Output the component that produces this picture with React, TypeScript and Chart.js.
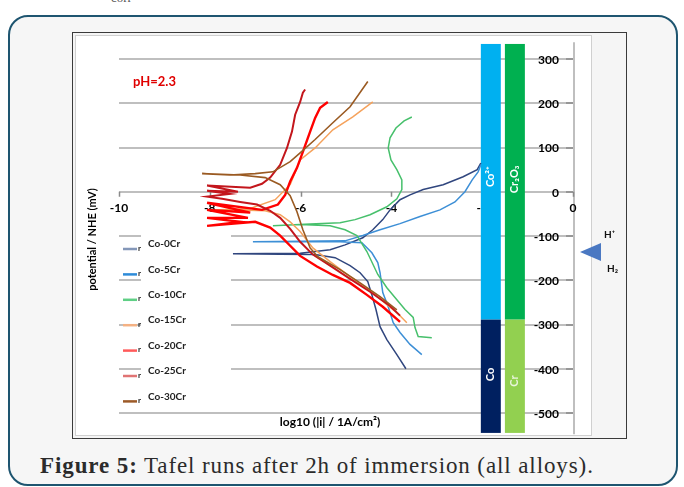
import React, { useEffect, useRef } from "react";
import { Chart, registerables } from "chart.js";

Chart.register(...registerables);

// ---------- data (log10 |i| in A/cm², potential in mV vs NHE) ----------
const co0CrLogI = [-3.68, -3.88, -4.1, -4.25, -4.34, -4.43, -4.52, -4.69, -4.91, -5.24, -5.68, -6.45, -7.49, -6.01, -5.35, -5.02, -4.63, -4.41, -4.19, -4.03, -3.81, -3.59, -3.3, -2.86, -2.42, -2.11, -2.03];
const co0CrE = [-400, -368, -334, -305, -266, -233, -203, -183, -167, -149, -142, -141, -140, -139, -131, -120, -104, -86, -63, -41, -18, -7, 5, 16, 34, 50, 65];

const co5CrLogI = [-3.33, -3.59, -3.81, -3.96, -4.07, -4.19, -4.25, -4.3, -4.43, -4.65, -5.13, -6.01, -7.05, -6.01, -5.02, -4.63, -4.25, -3.81, -3.37, -2.93, -2.6, -2.38, -2.22, -2.09, -2.03];
const co5CrE = [-368, -345, -318, -296, -260, -228, -183, -160, -138, -115, -113, -113, -113, -112, -111, -99, -86, -72, -56, -41, -23, 0, 27, 45, 61];

const co10CrLogI = [-3.11, -3.41, -3.48, -3.52, -3.7, -3.88, -4.1, -4.3, -4.54, -4.76, -5.02, -5.35, -6.01, -6.61, -5.79, -5.13, -4.8, -4.47, -4.1, -3.88, -3.77, -3.77, -3.88, -4.01, -4.07, -4.03, -3.9, -3.72, -3.55];
const co10CrE = [-330, -327, -307, -284, -266, -244, -217, -187, -135, -99, -86, -77, -74, -77, -73, -70, -63, -52, -34, -16, 5, 27, 50, 72, 99, 122, 144, 160, 169];

const co15CrLogI = [-3.66, -3.88, -4.1, -4.41, -4.91, -5.35, -5.73, -6.01, -6.23, -6.45, -6.78, -7.33, -7.89, -7.11, -6.56, -6.23, -6.01, -5.68, -5.29, -4.85, -4.41];
const co15CrE = [-296, -273, -255, -228, -192, -158, -127, -90, -68, -52, -43, -41, -41, -38, -18, 16, 72, 99, 140, 169, 203];

const co20CrLogI = [-3.81, -4.19, -4.54, -4.91, -5.29, -5.64, -6.01, -6.23, -6.45, -6.67, -7.0, -8.06, -7.33, -8.06, -7.16, -8.06, -7.11, -8.06, -6.85, -6.5, -6.34, -6.23, -6.08, -5.95, -5.79, -5.68, -5.57, -5.4];
const co20CrE = [-294, -260, -233, -206, -188, -169, -145, -122, -99, -81, -68, -77, -68, -59, -59, -41, -47, -25, -41, -29, -7, 23, 54, 90, 136, 167, 190, 203];

const co25CrLogI = [-3.81, -4.03, -4.47, -4.91, -5.35, -5.73, -6.01, -6.23, -6.45, -6.67, -6.96, -7.33, -7.73, -8.06, -7.56, -8.06, -7.38, -8.06, -7.11, -6.85, -6.67, -6.45, -6.3, -6.19, -6.12, -6.01, -5.95, -5.9];
const co25CrE = [-280, -258, -226, -197, -167, -142, -113, -84, -59, -43, -29, -23, -16, -11, -5, 2, 0, 14, 9, 18, 32, 61, 99, 136, 174, 203, 224, 231];

const co30CrLogI = [-3.88, -4.25, -4.69, -5.13, -5.62, -5.79, -5.95, -6.08, -6.23, -6.45, -6.78, -7.33, -8.17, -7.56, -7.0, -6.61, -6.23, -6.01, -5.68, -5.29, -4.91, -4.52];
const co30CrE = [-267, -237, -206, -176, -147, -127, -86, -45, -9, 16, 32, 38, 41, 38, 41, 45, 68, 88, 118, 156, 192, 249];

const seriesNames = ["Co-0Cr", "Co-5Cr", "Co-10Cr", "Co-15Cr", "Co-20Cr", "Co-25Cr", "Co-30Cr"];
const seriesLogI = [co0CrLogI, co5CrLogI, co10CrLogI, co15CrLogI, co20CrLogI, co25CrLogI, co30CrLogI];
const seriesE = [co0CrE, co5CrE, co10CrE, co15CrE, co20CrE, co25CrE, co30CrE];
const seriesColors = ["#30467e", "#3d8fd6", "#47c06c", "#f5a25c", "#ff0000", "#c3161c", "#9a5a22"];
const legendColors = ["#8497b8", "#2e8bd8", "#5fcf85", "#f4b183", "#ff5a5a", "#e07474", "#9c5a28"];
const seriesWidths = [1.5, 1.5, 1.5, 1.5, 2.4, 2, 1.6];

const xTickValues = [-10, -8, -6, -4, -2, 0];
const yTickValues = [300, 200, 100, 0, -100, -200, -300, -400, -500];

// stability bands (Pourbaix-like): [left, right] log i, and potentials
const bandLeft = [-2.03, -1.5];
const bandRight = [-1.59, -1.06];
const bandTop = 334;
const bandSplit = -289;
const bandBottom = -545;
const bandUpperColors = ["#00b0f0", "#00b050"];
const bandLowerColors = ["#002060", "#92d050"];
const bandUpperLabels = ["Co²⁺", "Cr₂O₃"];
const bandLowerLabels = ["Co", "Cr"];
const bandUpperLabelE = [34, 28];
const bandLowerLabelE = [-413, -428];
const bandLowerLabelColors = ["#ffffff", "#e9f5dc"];

const hydrogenE = -136; // H+/H2 at pH 2.3
const phLabel = "pH=2.3";
const phLabelPos = { x: -9.69, y: 249 };

const FONT = "Lato, 'DejaVu Sans', sans-serif";

const decorPlugin = {
  id: "decor",
  beforeDatasetsDraw(chart: any) {
    const { ctx } = chart;
    const xs = chart.scales.x;
    const ys = chart.scales.y;
    const X = (v: number) => xs.getPixelForValue(v);
    const Y = (v: number) => ys.getPixelForValue(v);
    const line = (x1: number, y1: number, x2: number, y2: number) => {
      ctx.beginPath();
      ctx.moveTo(x1, y1);
      ctx.lineTo(x2, y2);
      ctx.stroke();
    };
    ctx.save();
    // gridlines
    ctx.strokeStyle = "#bfbfbf";
    ctx.lineWidth = 2;
    yTickValues.forEach((v) => {
      const py = Math.round(Y(v));
      line(X(-10), py, X(0), py);
    });
    // vertical axis at x = 0
    line(Math.round(X(0)) + 1, Y(338), Math.round(X(0)) + 1, Y(-548));
    // y tick marks
    ctx.strokeStyle = "#8a8a8a";
    ctx.lineWidth = 1.5;
    yTickValues.forEach((v) => {
      const py = Math.round(Y(v));
      line(X(0) - 7, py, X(0), py);
    });
    // x tick marks
    xTickValues.forEach((v) => {
      const px = Math.round(X(v)) + 0.5;
      line(px, Y(0), px, Y(0) + 5);
    });

    // legend background
    const la = chart.chartArea.left;
    const lt = Y(-100) - 6;
    ctx.fillStyle = "#ffffff";
    ctx.fillRect(la + 22, lt + 4, 90, 172);

    // tick labels
    ctx.fillStyle = "#000";
    ctx.font = "bold 12px " + FONT;
    ctx.textAlign = "center";
    ctx.textBaseline = "middle";
    xTickValues.forEach((v) => {
      ctx.fillText(String(v), X(v), Y(0) + 16);
    });
    ctx.textAlign = "right";
    yTickValues.forEach((v) => {
      ctx.fillText(String(v), X(0) - 14, Y(v) + 1);
    });

    // bands
    for (let i = 0; i < 2; i++) {
      const x1 = X(bandLeft[i]);
      const x2 = X(bandRight[i]);
      ctx.fillStyle = bandUpperColors[i];
      ctx.fillRect(x1, Y(bandTop), x2 - x1, Y(bandSplit) - Y(bandTop));
      ctx.fillStyle = bandLowerColors[i];
      ctx.fillRect(x1, Y(bandSplit), x2 - x1, Y(bandBottom) - Y(bandSplit));
      const cx = (x1 + x2) / 2;
      ctx.font = "bold 11px " + FONT;
      ctx.textAlign = "center";
      ctx.textBaseline = "middle";
      ctx.save();
      ctx.translate(cx, Y(bandUpperLabelE[i]));
      ctx.rotate(-Math.PI / 2);
      ctx.fillStyle = "#ffffff";
      ctx.fillText(bandUpperLabels[i], 0, 0);
      ctx.restore();
      ctx.save();
      ctx.translate(cx, Y(bandLowerLabelE[i]));
      ctx.rotate(-Math.PI / 2);
      ctx.fillStyle = bandLowerLabelColors[i];
      ctx.fillText(bandLowerLabels[i], 0, 0);
      ctx.restore();
    }

    // legend entries
    const rowY0 = Y(-100) + 13;
    const step = 25.4;
    ctx.textAlign = "left";
    ctx.textBaseline = "middle";
    seriesNames.forEach((name, i) => {
      const ry = rowY0 + i * step;
      ctx.strokeStyle = legendColors[i];
      ctx.lineWidth = 2.5;
      line(la + 4, ry, la + 18, ry);
      ctx.fillStyle = "#222";
      ctx.font = "bold 8px " + FONT;
      ctx.fillText("r", la + 19, ry - 1);
      ctx.font = "bold 10px " + FONT;
      ctx.fillText(name, la + 29, ry - 5);
    });
    ctx.restore();
  },
  afterDatasetsDraw(chart: any) {
    const { ctx } = chart;
    const xs = chart.scales.x;
    const ys = chart.scales.y;
    const X = (v: number) => xs.getPixelForValue(v);
    const Y = (v: number) => ys.getPixelForValue(v);
    ctx.save();
    // pH label
    ctx.fillStyle = "#e00000";
    ctx.font = "bold 13px " + FONT;
    ctx.textAlign = "left";
    ctx.textBaseline = "middle";
    ctx.fillText(phLabel, X(phLabelPos.x), Y(phLabelPos.y));
    // axis titles
    ctx.fillStyle = "#000";
    ctx.font = "bold 12px " + FONT;
    ctx.textAlign = "center";
    ctx.fillText("log10 (|i| / 1A/cm²)", X(-5.35), Y(-520));
    ctx.save();
    ctx.translate(20, Y(-108));
    ctx.rotate(-Math.PI / 2);
    ctx.font = "bold 11px " + FONT;
    ctx.fillText("potential / NHE (mV)", 0, 0);
    ctx.restore();
    // H+/H2 marker
    const ty = Y(hydrogenE);
    const tx = X(0) + 7;
    ctx.fillStyle = "#4a78c2";
    ctx.beginPath();
    ctx.moveTo(tx, ty);
    ctx.lineTo(tx + 21, ty - 9);
    ctx.lineTo(tx + 21, ty + 9);
    ctx.closePath();
    ctx.fill();
    ctx.fillStyle = "#111";
    ctx.font = "bold 10px " + FONT;
    ctx.textAlign = "left";
    ctx.fillText("H⁺", tx + 24, ty - 17);
    ctx.fillText("H₂", tx + 27, ty + 17);
    ctx.restore();
  },
};

export default function App() {
  const ref = useRef<HTMLCanvasElement>(null);
  useEffect(() => {
    const canvas = ref.current;
    if (!canvas) return;
    const chart = new Chart(canvas, {
      type: "scatter",
      data: {
        datasets: seriesNames.map((name, i) => ({
          label: name,
          data: seriesLogI[i].map((x, k) => ({ x, y: seriesE[i][k] })),
          showLine: true,
          borderColor: seriesColors[i],
          backgroundColor: seriesColors[i],
          borderWidth: seriesWidths[i],
          pointRadius: 0,
          tension: 0,
          clip: false as any,
          order: 10 - i,
        })),
      },
      options: {
        animation: false,
        responsive: false,
        maintainAspectRatio: false,
        events: [],
        layout: { padding: { left: 47, right: 54, top: 27, bottom: 26 } },
        scales: {
          x: { type: "linear", min: -10, max: 0, display: false },
          y: { type: "linear", min: -500, max: 300, display: false },
        },
        plugins: { legend: { display: false }, tooltip: { enabled: false } },
      },
      plugins: [decorPlugin],
    });
    return () => chart.destroy();
  }, []);

  return (
    <div style={{ position: "fixed", left: 0, top: 0, width: 684, height: 487, background: "#ffffff", overflow: "hidden" }}>
      <div style={{ position: "absolute", left: 111, top: -10, fontSize: 13, color: "#555", fontFamily: "'Liberation Serif', serif" }}>corr</div>
      <div style={{ position: "absolute", left: 8, top: 15, width: 670, height: 471, border: "2px solid #1e5570", borderRadius: 20, background: "#f6f6f6", boxSizing: "border-box" }} />
      <div style={{ position: "absolute", left: 72, top: 32, width: 555, height: 407, border: "1.5px solid #3a3a3a", background: "#f5f5f5", boxSizing: "border-box" }} />
      <div style={{ position: "absolute", left: 75, top: 35, width: 517, height: 401, border: "1px solid #d0d0d0", background: "#ffffff", boxSizing: "border-box" }} />
      <canvas ref={ref} width={555} height={407} style={{ position: "absolute", left: 72, top: 32, width: 555, height: 407 }} />
      <div style={{ position: "absolute", left: 40, top: 453, fontSize: 23, lineHeight: "26px", letterSpacing: "0.9px", color: "#2b2b2b", fontFamily: "'Liberation Serif', serif", whiteSpace: "nowrap" }}>
        <b>Figure 5:</b> Tafel runs after 2h of immersion (all alloys).
      </div>
    </div>
  );
}
